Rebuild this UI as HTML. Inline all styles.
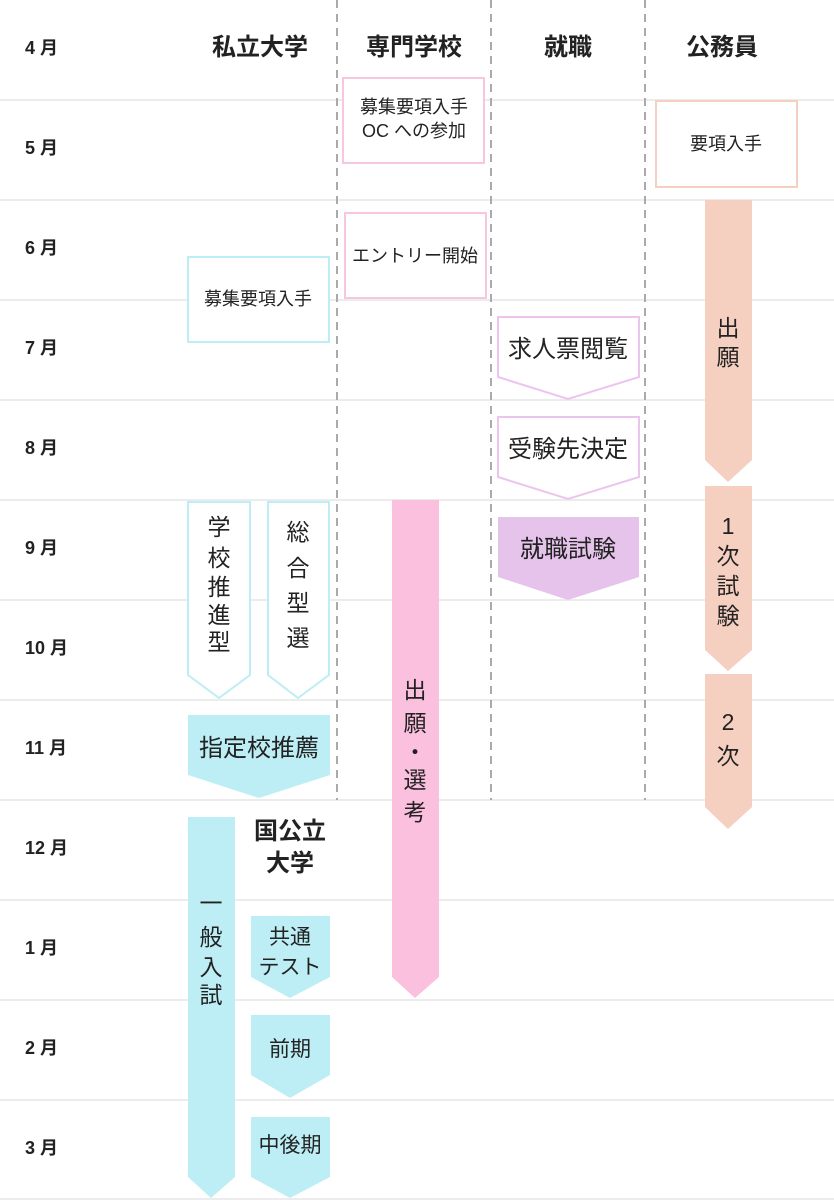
<!DOCTYPE html>
<html><head><meta charset="utf-8"><style>
html,body{margin:0;padding:0;background:#fff;}
svg{display:block;}
text{font-family:"Liberation Sans","Noto Sans CJK JP",sans-serif;fill:#222;}
</style></head><body>
<svg width="834" height="1200" viewBox="0 0 834 1200" xmlns="http://www.w3.org/2000/svg">
<g stroke="#ececec" stroke-width="2">
<line x1="0" y1="100" x2="834" y2="100"/><line x1="0" y1="200" x2="834" y2="200"/>
<line x1="0" y1="300" x2="834" y2="300"/><line x1="0" y1="400" x2="834" y2="400"/>
<line x1="0" y1="500" x2="834" y2="500"/><line x1="0" y1="600" x2="834" y2="600"/>
<line x1="0" y1="700" x2="834" y2="700"/><line x1="0" y1="800" x2="834" y2="800"/>
<line x1="0" y1="900" x2="834" y2="900"/><line x1="0" y1="1000" x2="834" y2="1000"/>
<line x1="0" y1="1100" x2="834" y2="1100"/><line x1="0" y1="1199" x2="834" y2="1199"/>
</g>
<g stroke="#aaa" stroke-width="2" stroke-dasharray="8,6">
<line x1="337" y1="0" x2="337" y2="800"/><line x1="491" y1="0" x2="491" y2="800"/><line x1="645" y1="0" x2="645" y2="800"/>
</g>
<g font-size="18" font-weight="bold">
<text x="25" y="54">4 月</text><text x="25" y="154">5 月</text><text x="25" y="254">6 月</text>
<text x="25" y="354">7 月</text><text x="25" y="454">8 月</text><text x="25" y="554">9 月</text>
<text x="25" y="654">10 月</text><text x="25" y="754">11 月</text><text x="25" y="854">12 月</text>
<text x="25" y="954">1 月</text><text x="25" y="1054">2 月</text><text x="25" y="1154">3 月</text>
</g>
<g font-size="24" font-weight="bold" text-anchor="middle">
<text x="260" y="55">私立大学</text><text x="414" y="55">専門学校</text>
<text x="568" y="55">就職</text><text x="722" y="55">公務員</text>
<text x="290" y="839">国公立</text><text x="290" y="871">大学</text>
</g>
<!-- boxes -->
<rect x="343" y="78" width="141" height="85" fill="#fff" stroke="#f9c6df" stroke-width="2"/>
<rect x="345" y="213" width="141" height="85" fill="#fff" stroke="#f9c6df" stroke-width="2"/>
<rect x="188" y="257" width="141" height="85" fill="#fff" stroke="#bdeef5" stroke-width="2"/>
<rect x="656" y="101" width="141" height="86" fill="#fff" stroke="#f5d0c0" stroke-width="2"/>
<g font-size="18" text-anchor="middle">
<text x="414" y="113">募集要項入手</text><text x="414" y="137">OC への参加</text>
<text x="415" y="262">エントリー開始</text>
<text x="258" y="305">募集要項入手</text>
<text x="726" y="150">要項入手</text>
</g>
<!-- job -->
<polygon points="498,317 639,317 639,377 568,399 498,377" fill="#fff" stroke="#ecc4ee" stroke-width="2"/>
<polygon points="498,417 639,417 639,477 568,499 498,477" fill="#fff" stroke="#ecc4ee" stroke-width="2"/>
<polygon points="498,517 639,517 639,577 568,600 498,577" fill="#e6c3ea"/>
<g font-size="24" text-anchor="middle">
<text x="568" y="357">求人票閲覧</text><text x="568" y="457">受験先決定</text><text x="568" y="557">就職試験</text>
</g>
<!-- koumuin -->
<polygon points="705,200 752,200 752,460 728,482 705,460" fill="#f5cfc0"/>
<polygon points="705,486 752,486 752,650 728,671 705,650" fill="#f5cfc0"/>
<polygon points="705,674 752,674 752,807 728,829 705,807" fill="#f5cfc0"/>
<g font-size="23" text-anchor="middle">
<text x="728" y="336">出</text><text x="728" y="365">願</text>
<text x="728" y="534">1</text><text x="728" y="564">次</text><text x="728" y="594">試</text><text x="728" y="624">験</text>
<text x="728" y="730">2</text><text x="728" y="764">次</text>
</g>
<!-- senmon -->
<polygon points="392,500 439,500 439,977 415,998 392,977" fill="#fcc0df"/>
<g font-size="23" text-anchor="middle">
<text x="415" y="698">出</text><text x="415" y="731">願</text><text x="415" y="760">・</text>
<text x="415" y="788">選</text><text x="415" y="820">考</text>
</g>
<!-- private -->
<polygon points="188,502 250,502 250,675 219,698 188,675" fill="#fff" stroke="#bdeef5" stroke-width="2"/>
<polygon points="268,502 329,502 329,675 298,698 268,675" fill="#fff" stroke="#bdeef5" stroke-width="2"/>
<g font-size="23" text-anchor="middle">
<text x="219" y="535">学</text><text x="219" y="566">校</text><text x="219" y="595">推</text><text x="219" y="623">進</text><text x="219" y="650">型</text>
<text x="298" y="540">総</text><text x="298" y="576">合</text><text x="298" y="611">型</text><text x="298" y="646">選</text>
</g>
<polygon points="188,715 330,715 330,775 259,798 188,775" fill="#bdeef5"/>
<text x="259" y="756" font-size="24" text-anchor="middle">指定校推薦</text>
<polygon points="188,817 235,817 235,1177 211,1198 188,1177" fill="#bdeef5"/>
<g font-size="23" text-anchor="middle">
<text x="211" y="911">一</text><text x="211" y="945">般</text><text x="211" y="975">入</text><text x="211" y="1003">試</text>
</g>
<polygon points="251,916 330,916 330,977 290,998 251,977" fill="#bdeef5"/>
<polygon points="251,1015 330,1015 330,1075 290,1098 251,1075" fill="#bdeef5"/>
<polygon points="251,1117 330,1117 330,1177 290,1198 251,1177" fill="#bdeef5"/>
<g font-size="21" text-anchor="middle">
<text x="290" y="944">共通</text><text x="290" y="974">テスト</text>
<text x="290" y="1056">前期</text><text x="290" y="1152">中後期</text>
</g>
</svg>
</body></html>
